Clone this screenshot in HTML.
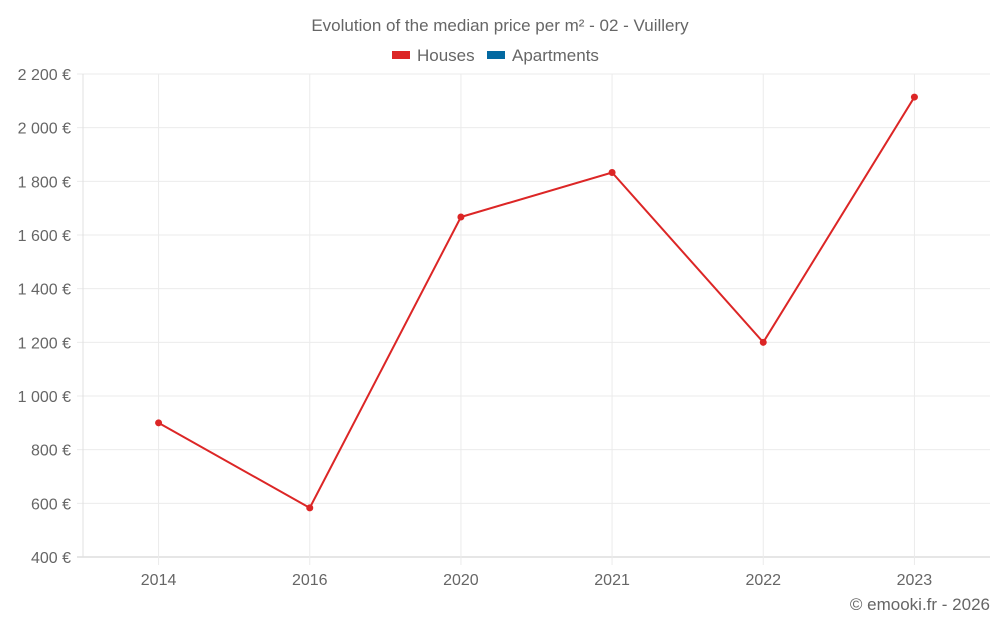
<!DOCTYPE html>
<html><head><meta charset="utf-8"><style>
body{margin:0;background:#fff;font-family:"Liberation Sans",sans-serif;}
svg text{font-family:"Liberation Sans",sans-serif;fill:#666;}
</style></head><body>
<svg id="chart" width="1000" height="625">
<text x="500" y="31" text-anchor="middle" font-size="17">Evolution of the median price per m² - 02 - Vuillery</text>
<g>
<rect x="392" y="51" width="18" height="8" fill="#dc2626"></rect>
<text x="417" y="61" font-size="17">Houses</text>
<rect x="487" y="51" width="18" height="8" fill="#0369a1"></rect>
<text x="512" y="61" font-size="17">Apartments</text>
</g>
<g id="grid"></g><g id="axes"></g><g id="series"></g>
<text x="990" y="610" text-anchor="end" font-size="17">© emooki.fr - 2026</text>
</svg>
<script>
const categories=["2014","2016","2020","2021","2022","2023"];
const houses=[900,583,1667,1833,1200,2114];
const yTicks=[400,600,800,1000,1200,1400,1600,1800,2000,2200];
const L=83,R=990,T=74,B=557,yMin=400,yMax=2200;
const NS="http://www.w3.org/2000/svg";
const bw=(R-L)/categories.length;
const xs=i=>L+bw*(i+0.5);
const ys=v=>B-(v-yMin)/(yMax-yMin)*(B-T);
function mk(t,a,p){const e=document.createElementNS(NS,t);for(const k in a)e.setAttribute(k,a[k]);p.appendChild(e);return e;}
const grid=document.getElementById('grid'),axes=document.getElementById('axes'),ser=document.getElementById('series');
yTicks.forEach(v=>{
 const l=mk('line',{x1:L-6,x2:R,y1:ys(v),y2:ys(v),stroke:v===yMin?'#ccc':'#ebebeb','stroke-width':1},grid);
 
 
 const t=mk('text',{x:L-12,y:ys(v)+6,'text-anchor':'end','font-size':16},axes);
 t.textContent=v.toLocaleString('fr-FR').replace(/\s/g,' ')+' €';
 
 
});
const ya=mk('line',{x1:L,x2:L,y1:T,y2:B,stroke:'#e0e0e0'},grid);


categories.forEach((c,i)=>{
 const l=mk('line',{x1:xs(i),x2:xs(i),y1:T,y2:B+8,stroke:'#ebebeb'},grid);
 
 
 const t=mk('text',{x:xs(i),y:585,'text-anchor':'middle','font-size':16},axes);
 t.textContent=c;
 
 
});
const path=mk('polyline',{points:houses.map((v,i)=>xs(i)+','+ys(v)).join(' '),fill:'none',stroke:'#dc2626','stroke-width':2},ser);


houses.forEach((v,i)=>{
 const c=mk('circle',{cx:xs(i),cy:ys(v),r:3.5,fill:'#dc2626'},ser);
 
 
});
</script>
</body></html>
